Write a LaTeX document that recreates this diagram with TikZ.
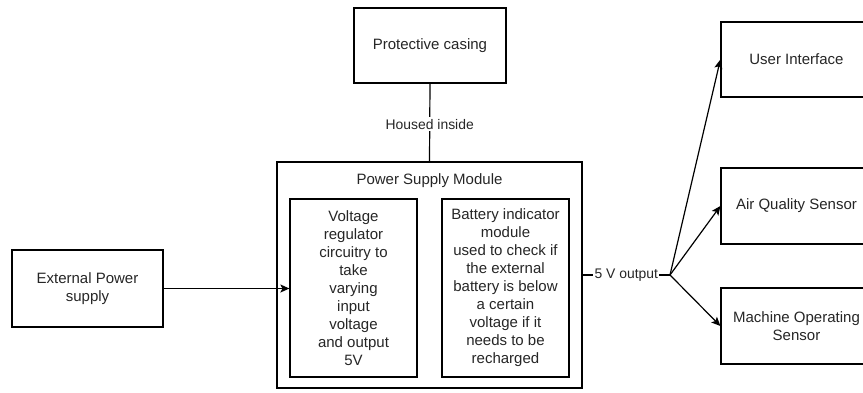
\documentclass[tikz,border=0pt]{standalone}
\usepackage{fontspec}
\setmainfont{Liberation Sans}
\usetikzlibrary{arrows.meta}
\begin{document}
\begin{tikzpicture}[x=1pt,y=-1pt,
  box/.style={draw=black,line width=1.2pt,rectangle,inner sep=0pt,align=center,
    font=\fontsize{15}{18}\selectfont,text=black!85},
  wire/.style={draw=black,line width=1.2pt},
  arr/.style={wire,-{Stealth[length=9pt,width=8pt,inset=2pt]}},
  tag/.style={fill=white,inner sep=1.5pt,font=\fontsize{13.9}{16}\selectfont,text=black!85}]
\useasboundingbox (0,0) rectangle (863,392);
\fill[white] (0,0) rectangle (863,392);

% top housing
\node[box,minimum width=152pt,minimum height=75pt] (casing) at (430,45.5) {Protective casing};

% power supply module with its two sub-blocks
\node[box,minimum width=305pt,minimum height=226pt] (psm) at (429.5,275) {};
\node[font=\fontsize{15}{18}\selectfont,text=black!85] (psmtitle) at (429.5,180.5) {Power Supply Module};
\node[box,minimum width=127pt,minimum height=178pt] (vreg) at (353.5,288)
  {Voltage\\regulator\\circuitry to\\take\\varying\\input\\voltage\\and output\\5V};
\node[box,minimum width=127pt,minimum height=178pt] (batt) at (505.5,288)
  {Battery indicator\\module\\used to check if\\the external\\battery is below\\a certain\\voltage if it\\needs to be\\recharged};

% input
\node[box,minimum width=151pt,minimum height=77pt] (ext) at (87.5,288.5) {External Power\\supply};

% loads
\node[box,minimum width=151pt,minimum height=75pt] (ui) at (796.5,59.5) {User Interface};
\node[box,minimum width=151pt,minimum height=76pt] (aqs) at (796.5,206) {Air Quality Sensor};
\node[box,minimum width=151pt,minimum height=76pt] (mos) at (796.5,326) {Machine Operating\\Sensor};

\coordinate (split) at (670,275);

% connections
\draw[wire] (casing.south) -- node[tag,pos=0.52] (housed) {Housed inside} (psm.north);
\draw[arr] (ext.east) -- (vreg.west |- ext.east);
\draw[wire] (psm.east |- split) -- node[tag] (vout) {5 V output} (split);
\draw[arr] (split) -- (ui.west);
\draw[arr] (split) -- (aqs.west);
\draw[arr] (split) -- (mos.west);
\end{tikzpicture}
\end{document}
